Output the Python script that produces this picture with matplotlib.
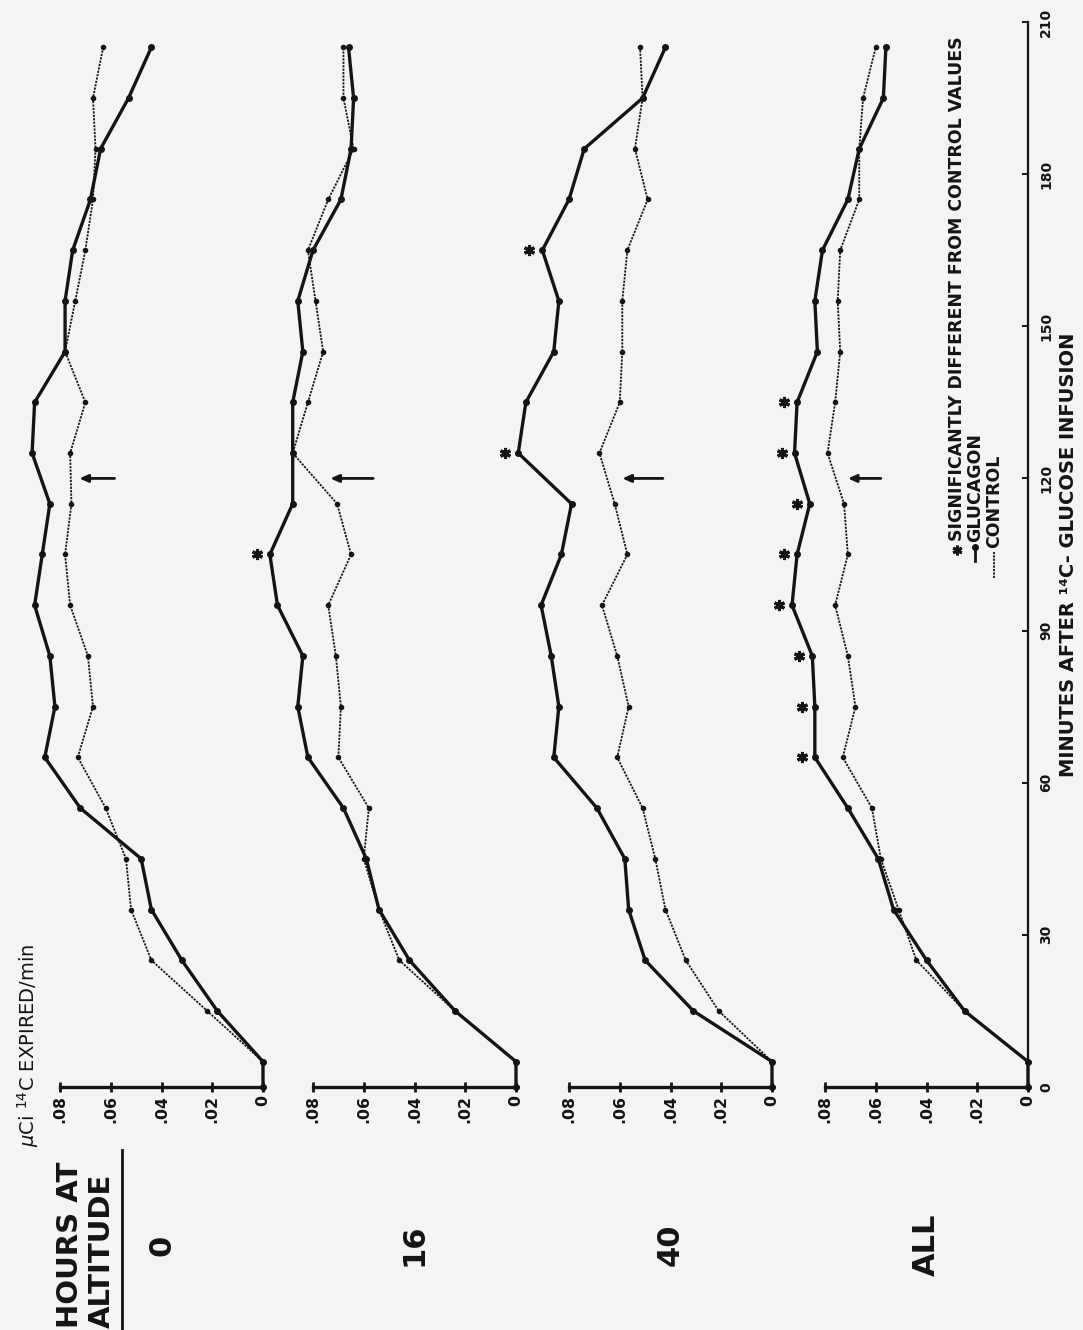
import matplotlib
matplotlib.use("Agg")
import matplotlib.pyplot as plt
from matplotlib.lines import Line2D
from matplotlib import transforms

plt.rcParams['font.family'] = ['DejaVu Sans']

W, H, DPI = 1083, 1330, 100
BG = '#f4f4f2'
INK = '#141414'

# ---------------- data ----------------
minutes = [0, 5, 15, 25, 35, 45, 55, 65, 75, 85, 95, 105, 115, 125, 135,
           145, 155, 165, 175, 185, 195, 205]
panel_labels = ["0", "16", "40", "ALL"]

glucagon_0 = [0, 0, 0.018, 0.032, 0.044, 0.048, 0.072, 0.086, 0.082, 0.084, 0.090,
              0.087, 0.084, 0.091, 0.090, 0.078, 0.078, 0.075, 0.068, 0.064, 0.053, 0.044]
control_0 = [0, 0, 0.022, 0.044, 0.052, 0.054, 0.062, 0.073, 0.067, 0.069, 0.076,
             0.078, 0.0755, 0.076, 0.070, 0.078, 0.074, 0.070, 0.067, 0.066, 0.067, 0.063]

glucagon_16 = [0, 0, 0.024, 0.042, 0.054, 0.059, 0.068, 0.082, 0.086, 0.084, 0.094,
               0.097, 0.088, 0.088, 0.088, 0.084, 0.086, 0.080, 0.069, 0.065, 0.064, 0.066]
control_16 = [0, 0, 0.024, 0.046, 0.054, 0.060, 0.058, 0.070, 0.069, 0.071, 0.074,
              0.065, 0.0705, 0.088, 0.082, 0.076, 0.079, 0.082, 0.074, 0.064, 0.068, 0.068]

glucagon_40 = [0, 0, 0.031, 0.050, 0.0565, 0.058, 0.069, 0.086, 0.084, 0.087, 0.091,
               0.083, 0.079, 0.100, 0.097, 0.086, 0.084, 0.0905, 0.080, 0.074, 0.051, 0.042]
control_40 = [0, 0, 0.021, 0.034, 0.042, 0.046, 0.051, 0.061, 0.0565, 0.061, 0.067,
              0.057, 0.062, 0.068, 0.060, 0.059, 0.059, 0.057, 0.049, 0.054, 0.051, 0.052]

glucagon_all = [0, 0, 0.025, 0.040, 0.053, 0.059, 0.071, 0.084, 0.084, 0.085, 0.093,
                0.091, 0.086, 0.092, 0.091, 0.083, 0.084, 0.081, 0.071, 0.0665, 0.057, 0.056]
control_all = [0, 0, 0.025, 0.044, 0.051, 0.058, 0.0615, 0.073, 0.068, 0.071, 0.076,
               0.071, 0.0725, 0.079, 0.076, 0.074, 0.075, 0.074, 0.0665, 0.0665, 0.065, 0.060]

sig_0 = []
sig_16 = [105]
sig_40 = [125, 165]
sig_all = [65, 75, 85, 95, 105, 115, 125, 135]

arrow_time = 120
arrow_tail = [0.0585, 0.0563, 0.043, 0.058]
arrow_head = [0.0724, 0.0732, 0.059, 0.071]

value_ticks = [0, 0.02, 0.04, 0.06, 0.08]
value_ticklabels = ["0", ".02", ".04", ".06", ".08"]
minute_ticks = [0, 30, 60, 90, 120, 150, 180, 210]
minute_ticklabels = ["0", "30", "60", "90", "120", "150", "180", "210"]

glucagon = [glucagon_0, glucagon_16, glucagon_40, glucagon_all]
control = [control_0, control_16, control_40, control_all]
sig = [sig_0, sig_16, sig_40, sig_all]

# ---------------- layout (pixels) ----------------
panel_right = [263, 516, 772, 1028]
panel_w = 203
top_px, bot_px = 22, 1087


def rect(l, t, r, b):
    return [l / W, 1 - b / H, (r - l) / W, (b - t) / H]


def fx(px):
    return px / W


def fy(py):
    return 1 - py / H


fig = plt.figure(figsize=(W / DPI, H / DPI), dpi=DPI, facecolor=BG)

for i in range(4):
    x0 = panel_right[i]
    ax = fig.add_axes(rect(x0 - panel_w, top_px, x0, bot_px))
    ax.patch.set_alpha(0)
    ax.set_xlim(0.08, 0)
    ax.set_ylim(0, 210)
    for s in ['top', 'left', 'right']:
        ax.spines[s].set_visible(False)
    ax.spines['bottom'].set_linewidth(2.4)
    ax.spines['bottom'].set_color(INK)
    ax.set_xticks(value_ticks)
    ax.set_xticklabels(value_ticklabels, rotation=90, fontsize=11.3,
                       fontweight='bold', color=INK)
    ax.tick_params(axis='x', direction='inout', length=7, width=2, pad=2,
                   color=INK)
    if i == 3:
        ax.spines['right'].set_visible(True)
        ax.spines['right'].set_linewidth(1.6)
        ax.spines['right'].set_color(INK)
        ax.yaxis.tick_right()
        ax.set_yticks(minute_ticks)
        ax.set_yticklabels(minute_ticklabels, rotation=90, fontsize=10,
                           fontweight='bold', color=INK, va='center')
        ax.tick_params(axis='y', direction='in', length=4, width=1.4, pad=8,
                       color=INK)
    else:
        ax.set_yticks([])

    ax.plot(control[i], minutes, color=INK, lw=1.3, ls=(0, (1.2, 0.7)),
            marker='o', ms=3.0, clip_on=False, zorder=3)
    ax.plot(glucagon[i], minutes, color=INK, lw=2.4, marker='o', ms=4.0,
            clip_on=False, zorder=4, solid_joinstyle='round')

    if sig[i]:
        vals = [glucagon[i][minutes.index(t)] for t in sig[i]]
        off = transforms.offset_copy(ax.transData, fig=fig, x=-13, y=0,
                                     units='dots')
        ax.plot(vals, sig[i], ls='none', marker=(6, 2, 0), ms=8, mew=2.2,
                color=INK, transform=off, clip_on=False, zorder=5)

    ax.annotate('', xy=(arrow_head[i], arrow_time),
                xytext=(arrow_tail[i], arrow_time),
                arrowprops=dict(arrowstyle='-|>,head_length=0.5,head_width=0.22',
                                lw=2, color=INK, shrinkA=0, shrinkB=0),
                annotation_clip=False)

    fig.text(fx(x0 - panel_w / 2), fy(1245), panel_labels[i], rotation=90,
             ha='center', va='center', fontsize=22, fontweight='bold', color=INK)

# titles and labels
fig.text(fx(86), fy(1328), "HOURS AT\nALTITUDE", rotation=90, ha='center',
         va='bottom', fontsize=21, fontweight='bold', color=INK,
         multialignment='left', linespacing=1.15)
fig.add_artist(Line2D([fx(122), fx(122)], [fy(1150), fy(1330)], color=INK,
                      lw=2, transform=fig.transFigure))

fig.text(fx(28), fy(1147), r"$\mu$Ci $^{14}$C EXPIRED/min", rotation=90,
         ha='center', va='bottom', fontsize=14, color=INK)

fig.text(fx(1068), fy(555), "MINUTES AFTER \u00b9\u2074C- GLUCOSE INFUSION",
         rotation=90, ha='center', va='center', fontsize=14,
         fontweight='bold', color=INK)

# legend
fig.add_artist(Line2D([fx(957)], [fy(550)], ls='none', marker=(6, 2, 0),
                      ms=7, mew=2, color=INK, transform=fig.transFigure))
fig.text(fx(957), fy(541), "SIGNIFICANTLY DIFFERENT FROM CONTROL VALUES",
         rotation=90, ha='center', va='bottom', fontsize=12.5,
         fontweight='bold', color=INK)
fig.add_artist(Line2D([fx(975), fx(975)], [fy(561), fy(547)], color=INK,
                      lw=2, transform=fig.transFigure))
fig.add_artist(Line2D([fx(975)], [fy(547)], ls='none', marker='o', ms=4,
                      color=INK, transform=fig.transFigure))
fig.text(fx(975), fy(542), "GLUCAGON", rotation=90, ha='center', va='bottom',
         fontsize=12.5, fontweight='bold', color=INK)
fig.add_artist(Line2D([fx(994), fx(994)], [fy(578), fy(552)], color=INK,
                      lw=1.3, ls=(0, (1.2, 0.7)), transform=fig.transFigure))
fig.text(fx(994), fy(548), "CONTROL", rotation=90, ha='center', va='bottom',
         fontsize=12.5, fontweight='bold', color=INK)

fig.savefig("out.png", dpi=DPI, facecolor=BG)
